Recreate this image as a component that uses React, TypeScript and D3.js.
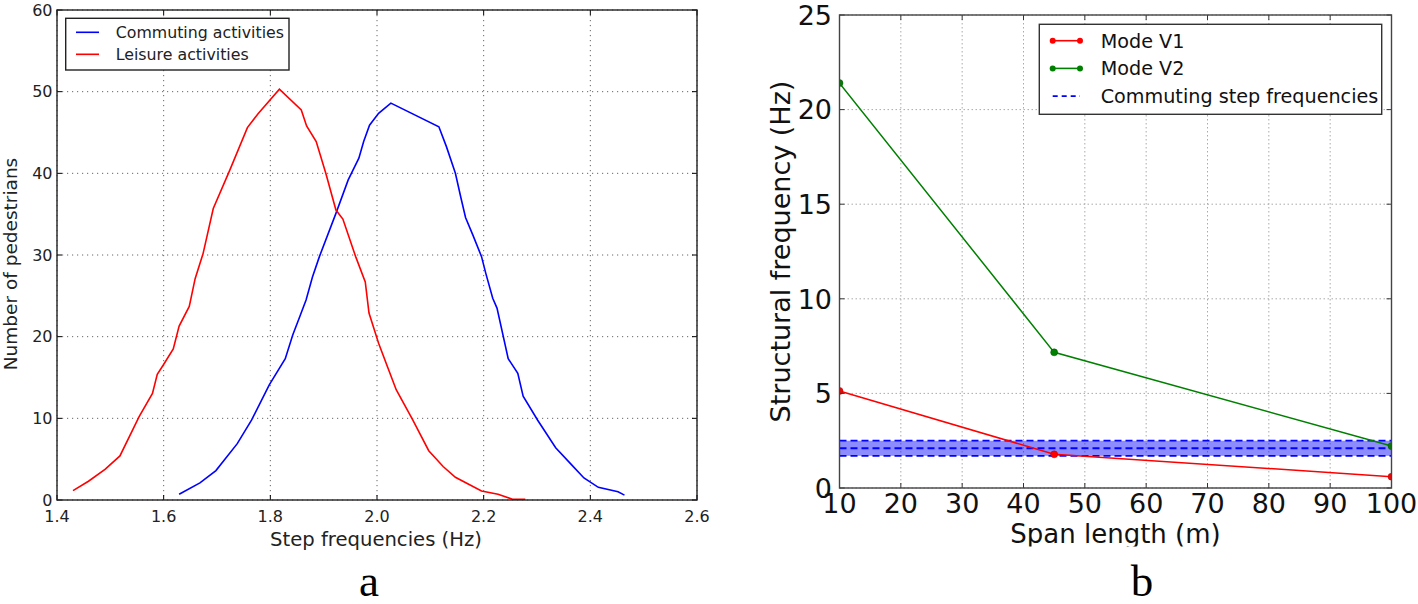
import React from "react";
import * as d3 from "d3";

// ---------- Data ----------
const leisureFreq = [1.43, 1.459, 1.49, 1.518, 1.554, 1.579, 1.588, 1.599, 1.618, 1.629, 1.648, 1.659, 1.674, 1.693, 1.724, 1.757, 1.777, 1.817, 1.858, 1.868, 1.886, 1.904, 1.923, 1.936, 1.96, 1.978, 1.985, 2.003, 2.02, 2.036, 2.067, 2.097, 2.124, 2.147, 2.171, 2.196, 2.227, 2.254, 2.278];
const leisureCount = [1.14, 2.3, 3.75, 5.4, 10.2, 13.06, 15.4, 16.5, 18.5, 21.3, 23.7, 27.1, 30.2, 35.7, 40.4, 45.6, 47.3, 50.3, 47.75, 45.8, 43.9, 40.0, 35.5, 34.4, 29.8, 26.7, 22.9, 19.2, 16.25, 13.5, 9.8, 6.04, 4.1, 2.78, 1.96, 1.1, 0.7, 0.1, 0.1];

const commutingFreq = [1.629, 1.668, 1.698, 1.738, 1.765, 1.798, 1.828, 1.842, 1.856, 1.867, 1.879, 1.892, 1.923, 1.946, 1.966, 1.975, 1.986, 2.003, 2.026, 2.116, 2.13, 2.147, 2.157, 2.166, 2.18, 2.196, 2.204, 2.217, 2.225, 2.246, 2.264, 2.274, 2.301, 2.335, 2.365, 2.388, 2.415, 2.452, 2.464];
const commutingCount = [0.7, 2.1, 3.6, 6.9, 9.8, 14.1, 17.3, 20.2, 22.6, 24.5, 27.3, 29.8, 35.1, 39.2, 41.85, 43.9, 45.9, 47.35, 48.6, 45.7, 43.3, 40.0, 37.1, 34.6, 32.4, 29.8, 27.75, 24.7, 23.5, 17.3, 15.5, 12.7, 9.8, 6.4, 4.3, 2.7, 1.55, 1.0, 0.6];

const leftXTicks = [1.4, 1.6, 1.8, 2.0, 2.2, 2.4, 2.6];
const leftYTicks = [0, 10, 20, 30, 40, 50, 60];

const spanLength = [10, 45, 100];
const modeV1 = [5.13, 1.78, 0.6];
const modeV2 = [21.4, 7.17, 2.22];
const commutingStepBand = [1.7, 2.1, 2.5]; // low, mean, high

const rightXTicks = [10, 20, 30, 40, 50, 60, 70, 80, 90, 100];
const rightYTicks = [0, 5, 10, 15, 20, 25];

const leftLegend = [
  { label: "Commuting activities", color: "#0000ff" },
  { label: "Leisure activities", color: "#ff0000" },
];
const rightLegend = [
  { label: "Mode V1", color: "#ff0000", kind: "marker" },
  { label: "Mode V2", color: "#008000", kind: "marker" },
  { label: "Commuting step frequencies", color: "#0000ff", kind: "dash" },
];

const FONT = "'DejaVu Sans', sans-serif";

export default function App() {
  // Left panel
  const xL = d3.scaleLinear().domain([1.4, 2.6]).range([57, 697]);
  const yL = d3.scaleLinear().domain([0, 60]).range([500, 10]);
  const [lx0, lx1] = xL.range();
  const [ly0, ly1] = yL.range(); // ly0 bottom, ly1 top

  const lineL = d3
    .line<[number, number]>()
    .x((d) => xL(d[0]))
    .y((d) => yL(d[1]));
  const leisurePts = leisureFreq.map((f, i) => [f, leisureCount[i]] as [number, number]);
  const commutingPts = commutingFreq.map((f, i) => [f, commutingCount[i]] as [number, number]);

  // Right panel
  const xR = d3.scaleLinear().domain([10, 100]).range([839.5, 1391.5]);
  const yR = d3.scaleLinear().domain([0, 25]).range([488, 15]);
  const [rx0, rx1] = xR.range();
  const [ry0, ry1] = yR.range();
  const lineR = d3
    .line<[number, number]>()
    .x((d) => xR(d[0]))
    .y((d) => yR(d[1]));
  const v1Pts = spanLength.map((s, i) => [s, modeV1[i]] as [number, number]);
  const v2Pts = spanLength.map((s, i) => [s, modeV2[i]] as [number, number]);

  const tick = 5;

  return (
    <svg
      width={1418}
      height={604}
      style={{ position: "absolute", left: 0, top: 0, display: "block", background: "#fff" }}
      fontFamily={FONT}
    >
      <defs>
        <clipPath id="clipL">
          <rect x={lx0} y={ly1} width={lx1 - lx0} height={ly0 - ly1} />
        </clipPath>
        <clipPath id="clipR">
          <rect x={rx0} y={ry1} width={rx1 - rx0} height={ry0 - ry1} />
        </clipPath>
        <clipPath id="clipRLabel">
          <rect x={760} y={0} width={658} height={546.5} />
        </clipPath>
      </defs>
      <rect x={0} y={0} width={1418} height={604} fill="#fff" />

      {/* ================= LEFT PANEL ================= */}
      <g>
        {leftXTicks.map((t) => (
          <line key={"lgx" + t} x1={xL(t)} x2={xL(t)} y1={ly1} y2={ly0} stroke="#666" strokeWidth={1} strokeDasharray="1.2,3.8" />
        ))}
        {leftYTicks.map((t) => (
          <line key={"lgy" + t} x1={lx0} x2={lx1} y1={yL(t)} y2={yL(t)} stroke="#666" strokeWidth={1} strokeDasharray="1.2,3.8" />
        ))}
        <g clipPath="url(#clipL)">
          <path d={lineL(commutingPts) || ""} fill="none" stroke="#0000ff" strokeWidth={1.6} />
          <path d={lineL(leisurePts) || ""} fill="none" stroke="#ff0000" strokeWidth={1.6} />
        </g>
        {leftXTicks.map((t) => (
          <g key={"ltx" + t}>
            <line x1={xL(t)} x2={xL(t)} y1={ly0} y2={ly0 - tick} stroke="#000" />
            <line x1={xL(t)} x2={xL(t)} y1={ly1} y2={ly1 + tick} stroke="#000" />
            <text x={xL(t)} y={521.5} fontSize={16} textAnchor="middle" fill="#222">
              {t.toFixed(1)}
            </text>
          </g>
        ))}
        {leftYTicks.map((t) => (
          <g key={"lty" + t}>
            <line x1={lx0} x2={lx0 + tick} y1={yL(t)} y2={yL(t)} stroke="#000" />
            <line x1={lx1} x2={lx1 - tick} y1={yL(t)} y2={yL(t)} stroke="#000" />
            <text x={52.5} y={yL(t)} dy="0.36em" fontSize={16} textAnchor="end" fill="#222">
              {t}
            </text>
          </g>
        ))}
        <rect x={lx0} y={ly1} width={lx1 - lx0} height={ly0 - ly1} fill="none" stroke="#222" strokeWidth={1.4} />
        <rect x={65.7} y={18.3} width={223.3} height={51.7} fill="#fff" stroke="#222" strokeWidth={1.4} />
        {leftLegend.map((d, i) => {
          const y = 32.3 + i * 22;
          return (
            <g key={d.label}>
              <line x1={76} x2={99} y1={y} y2={y} stroke={d.color} strokeWidth={1.6} />
              <text x={115.7} y={y} dy="0.36em" fontSize={15.8} fill="#222">
                {d.label}
              </text>
            </g>
          );
        })}
        <text x={376} y={546} fontSize={19.6} textAnchor="middle" fill="#222">
          Step frequencies (Hz)
        </text>
        <text transform={`translate(17,264) rotate(-90)`} fontSize={18.5} textAnchor="middle" fill="#222">
          Number of pedestrians
        </text>
        <text x={369} y={596} fontSize={45} textAnchor="middle" fontFamily="'Liberation Serif', serif" fill="#000">
          a
        </text>
      </g>

      {/* ================= RIGHT PANEL ================= */}
      <g>
        {rightXTicks.map((t) => (
          <line key={"rgx" + t} x1={xR(t)} x2={xR(t)} y1={ry1} y2={ry0} stroke="#aaa" strokeWidth={1} strokeDasharray="1.5,2.5" />
        ))}
        {rightYTicks.map((t) => (
          <line key={"rgy" + t} x1={rx0} x2={rx1} y1={yR(t)} y2={yR(t)} stroke="#aaa" strokeWidth={1} strokeDasharray="1.5,2.5" />
        ))}
        <g clipPath="url(#clipR)">
          <rect
            x={rx0}
            y={yR(commutingStepBand[2])}
            width={rx1 - rx0}
            height={yR(commutingStepBand[0]) - yR(commutingStepBand[2])}
            fill="#0000ff"
            fillOpacity={0.45}
          />
          {commutingStepBand.map((v, i) => (
            <line key={"band" + i} x1={rx0} x2={rx1} y1={yR(v)} y2={yR(v)} stroke="#0000ff" strokeWidth={1.8} strokeDasharray="7,4" />
          ))}
          <path d={lineR(v1Pts) || ""} fill="none" stroke="#ff0000" strokeWidth={1.5} />
          <path d={lineR(v2Pts) || ""} fill="none" stroke="#008000" strokeWidth={1.5} />
          {v1Pts.map((p, i) => (
            <circle key={"v1" + i} cx={xR(p[0])} cy={yR(p[1])} r={3.5} fill="#ff0000" stroke="#aa0000" strokeWidth={0.5} />
          ))}
          {v2Pts.map((p, i) => (
            <circle key={"v2" + i} cx={xR(p[0])} cy={yR(p[1])} r={3.5} fill="#008000" stroke="#005000" strokeWidth={0.5} />
          ))}
        </g>
        {rightXTicks.map((t) => (
          <g key={"rtx" + t}>
            <line x1={xR(t)} x2={xR(t)} y1={ry0} y2={ry0 - tick} stroke="#333" />
            <line x1={xR(t)} x2={xR(t)} y1={ry1} y2={ry1 + tick} stroke="#333" />
            <text x={xR(t)} y={513} fontSize={27} textAnchor="middle" fill="#111">
              {t}
            </text>
          </g>
        ))}
        {rightYTicks.map((t) => (
          <g key={"rty" + t}>
            <line x1={rx0} x2={rx0 + tick} y1={yR(t)} y2={yR(t)} stroke="#333" />
            <line x1={rx1} x2={rx1 - tick} y1={yR(t)} y2={yR(t)} stroke="#333" />
            <text x={832} y={yR(t)} dy="0.36em" fontSize={27} textAnchor="end" fill="#111">
              {t}
            </text>
          </g>
        ))}
        <rect x={rx0} y={ry1} width={rx1 - rx0} height={ry0 - ry1} fill="none" stroke="#444" strokeWidth={1.4} />
        <rect x={1039.3} y={24.3} width={342.4} height={90} fill="#fff" stroke="#333" strokeWidth={1.4} />
        {rightLegend.map((d, i) => {
          const y = 40.7 + i * 27.7;
          return (
            <g key={d.label}>
              {d.kind === "marker" ? (
                <g>
                  <line x1={1052.7} x2={1080} y1={y} y2={y} stroke={d.color} strokeWidth={1.6} />
                  <circle cx={1052.7} cy={y} r={3} fill={d.color} />
                  <circle cx={1080} cy={y} r={3} fill={d.color} />
                </g>
              ) : (
                <line x1={1052.7} x2={1080} y1={y} y2={y} stroke={d.color} strokeWidth={1.6} strokeDasharray="5,4" />
              )}
              <text x={1100.7} y={y} dy="0.36em" fontSize={19.2} fill="#111">
                {d.label}
              </text>
            </g>
          );
        })}
        <g clipPath="url(#clipRLabel)">
          <text x={(rx0 + rx1) / 2} y={543} fontSize={26} textAnchor="middle" fill="#111">
            Span length (m)
          </text>
        </g>
        <text transform={`translate(789.5,${(ry0 + ry1) / 2}) rotate(-90)`} fontSize={27} textAnchor="middle" fill="#111">
          Structural frequency (Hz)
        </text>
        <text x={1142} y={596} fontSize={45} textAnchor="middle" fontFamily="'Liberation Serif', serif" fill="#000">
          b
        </text>
      </g>
    </svg>
  );
}
